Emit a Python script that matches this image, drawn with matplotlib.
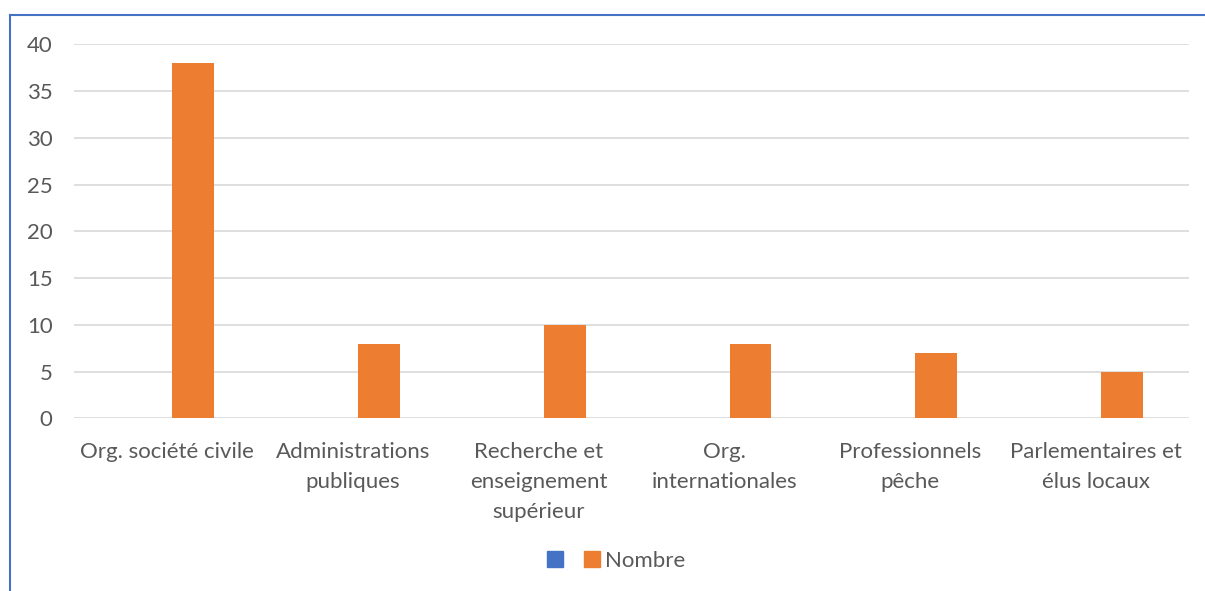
import matplotlib.pyplot as plt
from matplotlib.patches import Patch
from matplotlib.lines import Line2D
import numpy as np

categories = ['Org. société civile', 'Administrations\npubliques',
              'Recherche et\nenseignement\nsupérieur', 'Org.\ninternationales',
              'Professionnels\npêche', 'Parlementaires et\nélus locaux']
serie_vide = [0, 0, 0, 0, 0, 0]
nombre = [38, 8, 10, 8, 7, 5]
y_ticks = [0, 5, 10, 15, 20, 25, 30, 35, 40]

plt.rcParams['font.family'] = ['Lato', 'DejaVu Sans']
plt.rcParams['font.size'] = 16

blue = '#4472C4'
orange = '#ED7D31'
grey = '#595959'

fig = plt.figure(figsize=(12.05, 5.91), dpi=100)
ax = fig.add_axes([0.0614, 0.2922, 0.9251, 0.6328])

x = np.arange(len(categories))
w = 0.2245
ax.bar(x - 0.1416, serie_vide, w, color=blue, linewidth=0)
ax.bar(x + 0.1416, nombre, w, color=orange, linewidth=0, zorder=3)

ax.set_xlim(-0.5, len(categories) - 0.5)
ax.set_ylim(0, 40)
ax.set_yticks(y_ticks)
ax.set_xticks(x)
ax.set_xticklabels(categories, linespacing=1.62)
ax.tick_params(axis='both', length=0, colors=grey, labelsize=16)
ax.tick_params(axis='y', pad=15.5)
ax.tick_params(axis='x', pad=17)
ax.grid(axis='y', color='#D9D9D9', linewidth=1.2)
ax.set_axisbelow(True)
for s in ax.spines.values():
    s.set_visible(False)

handles = [Patch(color=blue), Patch(color=orange)]
fig.legend(handles, ['', 'Nombre'], loc='center', bbox_to_anchor=(0.5115, 0.051),
           ncol=2, frameon=False, handlelength=0.7, handleheight=0.7,
           handletextpad=0.25, columnspacing=0.7, labelcolor=grey, fontsize=16)

# cadre bleu (coupé à droite et en bas)
fig.add_artist(Line2D([10 / 1205, 10 / 1205], [0, 1 - 15 / 591], color=blue,
                      linewidth=1.5, transform=fig.transFigure))
fig.add_artist(Line2D([10 / 1205, 1], [1 - 15 / 591, 1 - 15 / 591], color=blue,
                      linewidth=1.5, transform=fig.transFigure))

fig.savefig('out.png', dpi=100)
